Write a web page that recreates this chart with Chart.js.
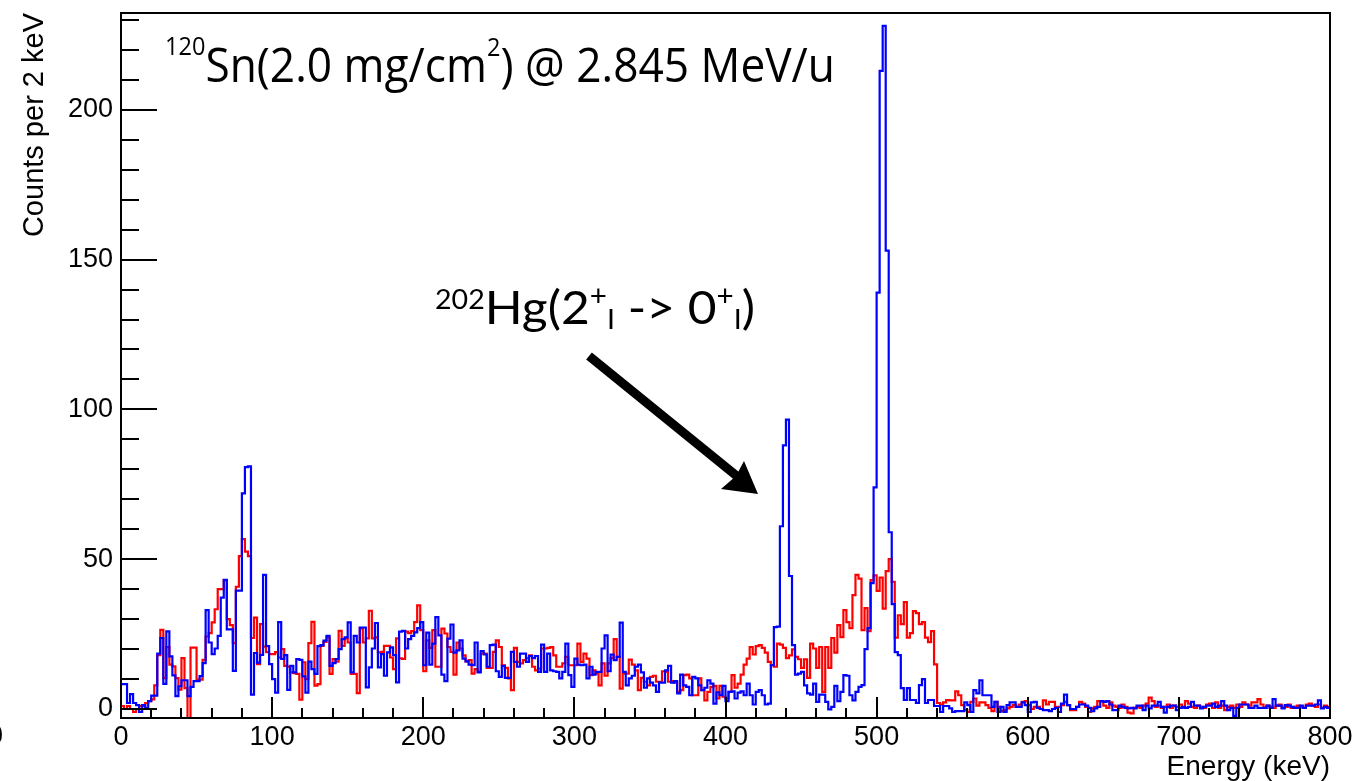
<!DOCTYPE html>
<html>
<head>
<meta charset="utf-8">
<title>Energy spectrum</title>
<script src="https://cdn.jsdelivr.net/npm/chart.js@4.4.1/dist/chart.umd.min.js"></script>
<style>
  html, body { margin: 0; padding: 0; background: #fff; }
  #chart { display: block; }
</style>
</head>
<body>
<canvas id="chart" width="1357" height="781"></canvas>
<script>
// histogram: bin i covers [i*2, i*2+2) keV
const binWidth = 2;

const redCounts = [
  1, 0, 1, 0, -1, 0, 1, 1, 2, 2.6,
  3.2, 7.9, 18, 26.4, 10.3, 20.7, 14.8, 14.2, 10.3, 6.5,
  17, 7, -4, 20.5, 20.5, 9.8, 9.8, 16.4, 24.2, 25.3,
  28.9, 33.3, 40, 40, 43, 30, 28, 22, 40.8, 51,
  56.7, 52.5, 51, 23.7, 30.5, 15, 28.3, 20.8, 19, 18.3,
  18.3, 19, 17.2, 20, 14.4, 14.1, 12.2, 12, 11.7, 3.1,
  15.6, 10, 22, 29.1, 7.8, 8.3, 21.1, 22.4, 23.9, 11.7,
  16.7, 15.8, 26.1, 21.1, 23.6, 22.2, 11.7, 11.7, 5.3, 26.9,
  22.2, 23.6, 32.8, 23.6, 23.9, 18.9, 19.1, 21.1, 21.1, 17.2,
  13.3, 23.6, 16.9, 16.7, 25.8, 25.3, 26, 29, 34.6, 26.3,
  12.6, 22.9, 20.4, 26.3, 14.1, 14.1, 26.8, 25.2, 20.7, 19.1,
  11.5, 22.2, 20.2, 17.9, 15.9, 16.3, 11.8, 13.3, 12.4, 18.5,
  18.5, 13.7, 13.7, 19.1, 22.9, 20.7, 14.6, 13.7, 10.2, 6.3,
  20.4, 15.7, 15.2, 16.3, 17, 17.9, 14.1, 12.9, 13.5, 20.2,
  20.2, 20.4, 20.7, 17.9, 14.1, 14.1, 15.2, 17.4, 14.6, 14.6,
  14.6, 21.8, 15.7, 18.5, 16.8, 11.3, 12.9, 11.8, 7.9, 15.2,
  11.1, 15.2, 17, 23.3, 17.4, 6.8, 11.8, 11.8, 16.5, 14.8,
  12.9, 6.3, 10.4, 9.1, 7.9, 10.7, 11.1, 9.1, 9.1, 12.6,
  12.4, 9.1, 9.3, 8.8, 5.7, 6.3, 11.3, 11.5, 10.2, 4.6,
  4.6, 10.2, 6.3, 2.9, 5.7, 7.4, 7.7, 3.5, 7.7, 4.1,
  3.5, 5.7, 11.3, 7.1, 8.5, 11.5, 14.8, 16.8, 20.7, 18.2,
  21, 21.3, 20.4, 18.8, 15.7, 14.6, 14.1, 21.8, 21.5, 20.4,
  17, 17.9, 19.9, 17.4, 16.6, 13.7, 16.6, 10.4, 21.8, 20.2,
  13.7, 20.7, 5.7, 20.7, 13.7, 23.7, 18.8, 28, 24, 33,
  29, 27, 38, 44.8, 43.5, 26.3, 33.7, 26, 43, 44.6,
  39.4, 43.9, 33.5, 46, 50, 42.4, 23.8, 31.3, 28.3, 35.7,
  23.8, 25.3, 32.7, 32, 28.3, 29, 23.8, 22.3, 26, 14.9,
  2, 1.5, 2.2, 3, 2.9, 2.9, 5.9, 4.6, 1.3, -0.4,
  -1, 2.4, 3.5, 1.1, 2.2, 2.2, 1.3, 0.4, -0.7, 2.4,
  0.7, -0.7, -0.4, 0.2, 0.7, 1.3, 0.7, 1.5, 2.4, 2.6,
  1.3, 0, 0.7, 0.7, 0, 2.9, 1.5, 2.4, 2.4, 0.7,
  0.7, 1.3, 2.4, 1.3, -0.4, -0.4, 0.7, 2.4, 1.8, 0.7,
  -1, 0.2, 0.7, 2.6, 2.6, 1.1, 0.4, 2.2, 1.1, 0.7,
  0.4, 1.5, 0.7, -1.2, -1.5, 0.4, 0.7, 0.4, 1.1, 1.8,
  3.8, 2.6, 0.7, 1.1, 0.4, 0.7, 1.5, 0.4, 1.1, 0.7,
  1.5, 0.4, 2.6, 1.8, 0.7, 0.4, 1.1, 0.7, 0.4, 1.5,
  1.8, 0.4, 2.2, 0.4, 1.1, -0.4, 0.7, 1.1, 0.4, 1.5,
  0.7, 2.2, 1.5, 1.1, 2.2, 2.2, 3.3, 1.5, 0.4, 1.1,
  0.7, 0.4, 1.1, 1.5, 0.4, 0.7, 1.5, 0.4, 0.7, 1.1,
  0.7, 0.4, 1.5, 1.8, 1.1, 0.7, 1.5, 0.4, 1.1, 0.7
];

const blueCounts = [
  8.3, 8.3, 2, 5, 2, 1.3, -1, 1.3, 0.4, 2.6,
  4.5, 4.5, 18.5, 23.7, 8.4, 25.9, 17.6, 11.2, 4.3, 7.6,
  9.6, 9.6, 4.3, 7.4, 9.3, 9.3, 11, 15.3, 33, 22.2,
  18.3, 20.2, 24.4, 37.2, 43.1, 26.6, 26.6, 12.7, 39.5, 39.5,
  72, 80.7, 81, 4.8, 18.7, 15.5, 18.1, 44.8, 21, 15,
  10, 5.5, 29, 16.7, 18, 6.4, 14.4, 12.2, 16.7, 16.4,
  10.9, 5.5, 15.8, 13.3, 11.7, 21, 21.3, 22.8, 24.4, 14.4,
  15.3, 16.7, 20, 23.3, 23.9, 28.9, 12.2, 24.4, 22.2, 27.2,
  27.2, 7.2, 13.9, 20.2, 28.7, 13.9, 18.3, 11.1, 18.9, 20.6,
  18, 8.9, 25.8, 26.1, 20.2, 23.3, 24.4, 25.6, 27, 29,
  14.6, 25.5, 14.8, 21.8, 30.7, 24.6, 11.5, 9.3, 23.5, 28.2,
  18.8, 19.6, 22.9, 16.8, 15.9, 14.8, 14.6, 22.2, 12.2, 19.3,
  18.2, 14.1, 21.3, 21.5, 12.6, 10.7, 14.4, 10.4, 10.4, 19.1,
  15.7, 14.1, 18.5, 18.5, 15.7, 17.7, 17, 17.7, 12.4, 21.5,
  12.4, 18.5, 12.9, 12.6, 12.4, 10.2, 12.4, 21.8, 11.3, 7.4,
  16.8, 14.8, 14.6, 14.8, 10.2, 14.1, 11.5, 12.4, 12.4, 20.2,
  24.6, 12.6, 18.2, 16.3, 17.4, 28.8, 12.4, 7.9, 10.2, 11.1,
  14.1, 14.8, 12.2, 7.1, 10.2, 8.8, 7.9, 5.7, 8.8, 8.8,
  12.9, 14.4, 8.8, 9.3, 5.2, 11.5, 7.9, 7.4, 4.6, 10.7,
  10.2, 7.9, 6.3, 7.1, 9.6, 8.5, 1.8, 5.6, 4.6, 7.7,
  2.6, 5.7, 5.9, 3.5, 5.5, 5.9, 4.6, 8.5, 4.6, 1.5,
  5.7, 6.3, 4.6, 1.5, 1.8, 14.6, 27.3, 27.5, 61, 88,
  96.6, 44.4, 21.3, 11.5, 11.8, 12.4, 7.9, 5.2, 4.8, 8.5,
  2.4, 4.8, 4.8, 2.4, -0.1, 0.7, 7.7, 2.6, 5.7, 11.3,
  11.1, 4.6, 2.9, 5.7, 7.4, 8, 20, 27, 42, 74,
  139, 213, 228, 153, 59, 35, 19, 18, 7, 3,
  7, 3, 3, 2, 8, 10, 2, 3, 3, 1,
  1, -1, 1, 1, 0.2, -1, -0.7, -0.7, -0.7, 2.2,
  1.3, -1, 6.3, 5.2, 9.6, 4.6, 4.6, 4.6, 0.7, 2.4,
  -1, 0.7, -1, 1.3, 2.2, 2.2, 0.7, 0.7, 2.2, 1.3,
  -1, 2.2, 2.4, 0.4, 0, -0.4, -0.4, -0.7, 0, 0.4,
  -1, 1.8, 4.8, 1.3, 0, 0, 0.7, 1.5, 1.5, 1.1,
  0.4, -0.7, 0.2, 0.7, 2.6, 2.4, 2.6, 1.5, -0.4, -0.4,
  1.1, 0.7, 0.4, 0.2, 0.4, 0.2, 1.1, 1.1, -0.4, 1.1,
  0.2, 1.1, 1.1, 2.4, 0.7, -1.2, 0.7, 1.1, 1.1, -0.4,
  0.4, 0.7, 0.4, 0.7, 2.4, 1.1, 1.1, 0.2, 0.7, 1.1,
  1.1, 1.8, 0.7, 1.1, 2.6, 1.1, -0.4, 0.4, -2.3, 0.4,
  1.5, 1.5, 1.5, 0.4, 0.4, 1.1, 0.4, 0.4, 0.4, 1.1,
  0.4, 3.3, 1.1, 1.1, 0.2, 1.3, 1.1, 0.7, 0.4, 0.4,
  1.1, 0.4, 1.1, 1.1, 1.1, 1.5, 2.9, 0.2, 0.7, 0.4
];

const xTickValues = [0, 100, 200, 300, 400, 500, 600, 700, 800];
const yTickValues = [0, 50, 100, 150, 200];
const xMinorStep = 20;
const yMinorStep = 10;

const FONT = "'Liberation Sans', Arial, Helvetica, sans-serif";

// points at the left edge of every bin, plus the right edge of the last one
function toSteps(counts) {
    const pts = counts.map((c, i) => ({ x: i * binWidth, y: c }));
    pts.push({ x: counts.length * binWidth, y: counts[counts.length - 1] });
    return pts;
}

// ROOT style frame with inward ticks
const frameTicks = {
    id: 'frameTicks',
    afterDatasetsDraw(chart) {
        const { ctx, chartArea: a, scales: { x, y } } = chart;
        ctx.save();
        ctx.strokeStyle = '#000';
        ctx.lineWidth = 2;
        ctx.strokeRect(a.left, a.top, a.right - a.left, a.bottom - a.top);

        ctx.beginPath();
        for (let v = x.min; v <= x.max; v += xMinorStep) {
            const px = Math.round(x.getPixelForValue(v));
            const len = v % 100 === 0 ? 21 : 10;
            ctx.moveTo(px, a.bottom);
            ctx.lineTo(px, a.bottom - len);
        }
        for (let v = 0; v <= y.max; v += yMinorStep) {
            const py = Math.round(y.getPixelForValue(v));
            const len = v % 50 === 0 ? 36 : 18;
            ctx.moveTo(a.left, py);
            ctx.lineTo(a.left + len, py);
        }
        ctx.stroke();
        ctx.restore();
    }
};

// draw a run of text pieces (superscripts etc), squeezed to a given width
function drawRich(ctx, family, parts, x, baseline, width) {
    let total = 0;
    parts.forEach(p => {
        ctx.font = p.size + 'px ' + family;
        p.w = ctx.measureText(p.t).width;
        total += p.w;
    });
    ctx.save();
    ctx.translate(x, baseline);
    ctx.scale(width / total, 1);
    ctx.fillStyle = '#000';
    ctx.textBaseline = 'alphabetic';
    ctx.textAlign = 'left';
    let cx = 0;
    parts.forEach(p => {
        ctx.font = p.size + 'px ' + family;
        ctx.fillText(p.t, cx, p.dy || 0);
        cx += p.w;
    });
    ctx.restore();
}

const annotations = {
    id: 'annotations',
    afterDraw(chart) {
        const ctx = chart.ctx;

        drawRich(ctx, "'Open Sans', sans-serif", [
            { t: '120', size: 25, dy: -27 },
            { t: 'Sn(2.0 mg/cm', size: 47 },
            { t: '2', size: 25, dy: -26 },
            { t: ') @ 2.845 MeV/u', size: 47 }
        ], 165, 82, 670);

        drawRich(ctx, "Lato, 'Open Sans', sans-serif", [
            { t: '202', size: 27, dy: -15 },
            { t: 'Hg(2', size: 47 },
            { t: '+', size: 28, dy: -18 },
            { t: 'I', size: 27, dy: 5 },
            { t: ' -> 0', size: 47 },
            { t: '+', size: 28, dy: -18 },
            { t: 'I', size: 27, dy: 5 },
            { t: ')', size: 47 }
        ], 435, 324, 320);

        // arrow pointing at the 440 keV line
        ctx.save();
        ctx.strokeStyle = '#000';
        ctx.fillStyle = '#000';
        ctx.lineWidth = 9;
        ctx.beginPath();
        ctx.moveTo(589, 356);
        ctx.lineTo(738, 477);
        ctx.stroke();
        ctx.beginPath();
        ctx.moveTo(758, 494);
        ctx.lineTo(721, 489);
        ctx.lineTo(736, 476);
        ctx.lineTo(744, 461);
        ctx.closePath();
        ctx.fill();

        // clipped label at the left edge
        ctx.font = '27px ' + FONT;
        ctx.textAlign = 'right';
        ctx.textBaseline = 'middle';
        ctx.fillText('0', 3, 737);
        ctx.restore();
    }
};

function initChart() {
    const ctx = document.getElementById('chart').getContext('2d');
    Chart.defaults.font.family = FONT;
    Chart.defaults.color = '#000';

    new Chart(ctx, {
        type: 'line',
        data: {
            datasets: [{
                label: 'blue',
                data: toSteps(blueCounts),
                borderColor: '#0000ff',
                borderWidth: 2.2,
                stepped: true,
                pointRadius: 0,
                fill: false
            }, {
                label: 'red',
                data: toSteps(redCounts),
                borderColor: '#ff0000',
                borderWidth: 2.2,
                stepped: true,
                pointRadius: 0,
                fill: false
            }]
        },
        options: {
            responsive: false,
            animation: false,
            devicePixelRatio: 1,
            layout: { padding: { top: 13, right: 27, left: 0, bottom: 0 } },
            plugins: { legend: { display: false }, tooltip: { enabled: false } },
            scales: {
                x: {
                    type: 'linear',
                    min: 0,
                    max: 800,
                    afterBuildTicks: s => { s.ticks = xTickValues.map(v => ({ value: v })); },
                    afterFit: s => { s.height = 63; s.paddingLeft = 0; s.paddingRight = 0; },
                    grid: { display: false, drawTicks: false },
                    border: { display: false },
                    ticks: { font: { size: 27 }, color: '#000', padding: 3, maxRotation: 0, autoSkip: false },
                    title: {
                        display: true, text: 'Energy (keV)', align: 'end',
                        font: { size: 28, lineHeight: 1.0 }, color: '#000', padding: { top: 0, bottom: 0 }
                    }
                },
                y: {
                    type: 'linear',
                    min: -3,
                    max: 232.3,
                    afterBuildTicks: s => { s.ticks = yTickValues.map(v => ({ value: v })); },
                    afterFit: s => { s.width = 121; s.paddingTop = 0; s.paddingBottom = 0; },
                    grid: { display: false, drawTicks: false },
                    border: { display: false },
                    ticks: { font: { size: 27 }, color: '#000', padding: 8 },
                    title: {
                        display: true, text: 'Counts per 2 keV', align: 'end',
                        font: { size: 29 }, color: '#000', padding: { top: 18, bottom: 0 }
                    }
                }
            }
        },
        plugins: [frameTicks, annotations]
    });
}

document.addEventListener('DOMContentLoaded', initChart);
</script>
</body>
</html>
